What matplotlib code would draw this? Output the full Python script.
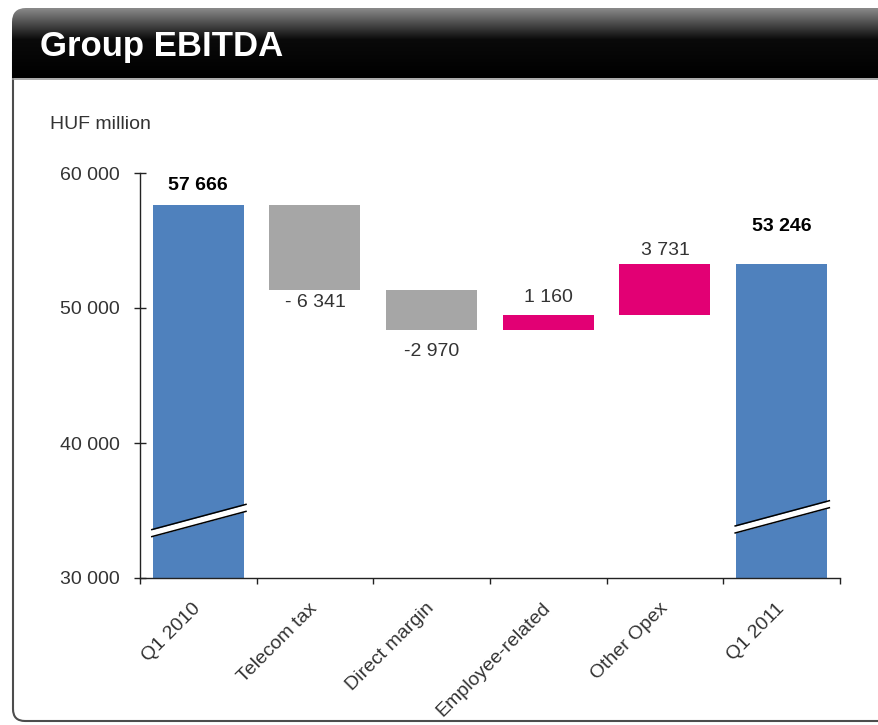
import matplotlib.pyplot as plt
import numpy as np
from matplotlib.patches import FancyBboxPatch
from matplotlib.colors import LinearSegmentedColormap
from matplotlib.ticker import FuncFormatter, FixedLocator

categories = ['Q1 2010', 'Telecom tax', 'Direct margin', 'Employee-related', 'Other Opex', 'Q1 2011']
values = [57666, -6341, -2970, 1160, 3731, 53246]
is_total = [True, False, False, False, False, True]
value_labels = ['57 666', '- 6 341', '-2 970', '1 160', '3 731', '53 246']

FONT = ['Liberation Sans', 'DejaVu Sans']
plt.rcParams['font.family'] = FONT

BLUE = '#4f81bd'
GREY = '#a6a6a6'
MAGENTA = '#e20074'
TXT = '#333333'
FS = 14

fig = plt.figure(figsize=(8.79, 7.25), dpi=100)

# background: frame and title bar, in pixel coords
bg = fig.add_axes([0, 0, 1, 1])
bg.set_xlim(0, 879)
bg.set_ylim(725, 0)
bg.axis('off')

frame = FancyBboxPatch((13, 40), 900, 681, boxstyle='round,pad=0,rounding_size=12',
                       fill=False, ec='#4d4d4d', lw=1.5, zorder=1)
bg.add_patch(frame)
bg.plot([13, 879], [78.5, 78.5], color='#9a9a9a', lw=1.2, zorder=2)

bar_box = FancyBboxPatch((12, 8), 900, 110, boxstyle='round,pad=0,rounding_size=14',
                         fc='none', ec='none', transform=bg.transData)
grad = np.linspace(0, 1, 200)[:, None]
cmap = LinearSegmentedColormap.from_list('tb', [(0, '#8a8a8a'), (0.45, '#0a0a0a'), (1, '#000000')])
im = bg.imshow(grad, extent=[12, 912, 78, 8], aspect='auto', cmap=cmap, zorder=3)
im.set_clip_path(bar_box)
bg.set_xlim(0, 879)
bg.set_ylim(725, 0)
bg.text(40, 46, 'Group EBITDA', color='white', fontsize=25, fontweight='bold',
        va='center', ha='left', zorder=4)
bg.text(50, 124, 'HUF million', color=TXT, fontsize=FS, va='center', ha='left')

# chart
ax = fig.add_axes([140 / 879, (725 - 578) / 725, 700 / 879, 405 / 725])
ax.patch.set_visible(False)
ymin, ymax = 30000, 60000

x = np.arange(len(categories))
bottoms, heights, colors = [], [], []
running = 0
for v, tot in zip(values, is_total):
    if tot:
        bottoms.append(0)
        heights.append(v)
        colors.append(BLUE)
        running = v
    else:
        start = running
        running = running + v
        bottoms.append(min(start, running))
        heights.append(abs(v))
        colors.append(GREY if v < 0 else MAGENTA)

bw = 0.78
ax.bar(x, heights, bottom=bottoms, width=bw, color=colors, zorder=2)

# value labels
label_offsets = [14, -9, -15, 12, 10, 27]
for i, (b, h, lab, off) in enumerate(zip(bottoms, heights, value_labels, label_offsets)):
    yref = b + h if off > 0 else b
    bold = is_total[i]
    ax.annotate(lab, (x[i], yref), xytext=(0, off), textcoords='offset points',
                ha='center', va='center', fontsize=FS,
                fontweight='bold' if bold else 'normal',
                color='black' if bold else TXT, zorder=5)

# axis break marks on the total bars
brk_mid = [34260, 34530]
brk_rise = 950
brk_gap = 520
for i, mid in zip([0, 5], brk_mid):
    xs = np.array([x[i] - bw / 2 - 0.015, x[i] + bw / 2 + 0.025])
    lo = mid + np.array([-brk_rise, brk_rise]) - brk_gap / 2
    hi = lo + brk_gap
    ax.fill_between(xs, lo, hi, color='white', zorder=3, lw=0)
    ax.plot(xs, lo, color='black', lw=1.1, zorder=4, solid_capstyle='butt')
    ax.plot(xs, hi, color='black', lw=1.1, zorder=4, solid_capstyle='butt')

ax.set_xlim(-0.5, len(categories) - 0.5)
ax.set_ylim(ymin, ymax)
ax.set_yticks([30000, 40000, 50000, 60000])
ax.yaxis.set_major_formatter(FuncFormatter(lambda v, p: f'{int(v):,}'.replace(',', ' ')))
ax.tick_params(axis='y', direction='inout', length=9, width=1, pad=10, labelsize=FS,
               labelcolor=TXT, color='#222222')

ax.set_xticks(x)
ax.set_xticklabels(categories, rotation=45, ha='right', va='center',
                   rotation_mode='anchor', fontsize=FS, color=TXT)
ax.tick_params(axis='x', which='major', length=0, pad=20)
ax.xaxis.set_minor_locator(FixedLocator(np.arange(-0.5, len(categories), 1.0)))
ax.tick_params(axis='x', which='minor', direction='out', length=4.5, width=1, color='#222222')

for s in ['top', 'right']:
    ax.spines[s].set_visible(False)
for s in ['left', 'bottom']:
    ax.spines[s].set_color('#222222')
    ax.spines[s].set_linewidth(1)

fig.savefig('out.png', dpi=100)
